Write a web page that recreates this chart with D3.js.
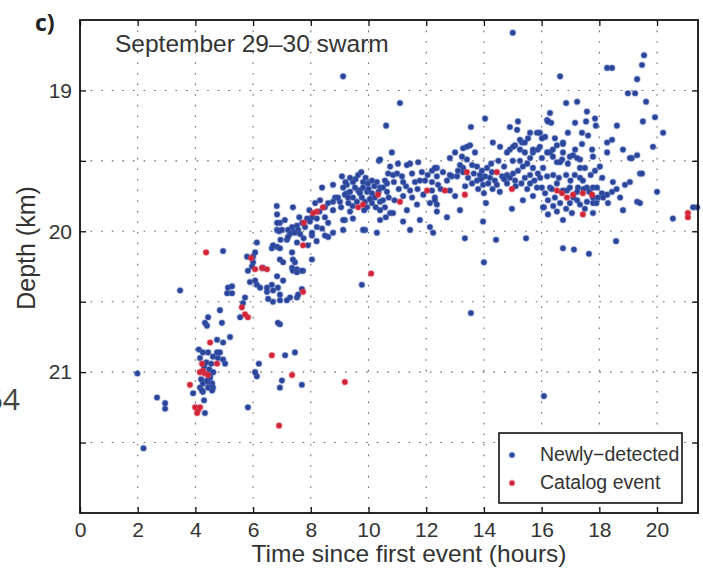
<!DOCTYPE html>
<html>
<head>
<meta charset="utf-8">
<script src="https://cdn.jsdelivr.net/npm/d3@7"></script>
<style>
  body { margin: 0; background: #fff; }
  svg { display: block; }
  .tick text { font-family: "Liberation Sans", Arial, sans-serif; font-size: 21px; fill: #333; }
</style>
</head>
<body>
<svg width="703" height="568"></svg>
<script>
// tick values / labels
const xTicks = [0, 2, 4, 6, 8, 10, 12, 14, 16, 18, 20];
const yTicks = [19, 19.5, 20, 20.5, 21, 21.5];
const yTickLabels = [19, 20, 21];
const seriesNames = ['Newly\u2212detected', 'Catalog event'];

// [hours since first event, depth km]
const newlyDetected = [
  [1.99,21.01],[2.2,21.54],[2.67,21.18],[2.95,21.22],[2.95,21.26],[3.47,20.42],[3.92,21.15],[4.16,21.11],
  [4.26,21.14],[4.23,21.13],[4.3,21.2],[4.33,21.29],[4.26,21.08],[4.44,21.07],[4.4,21.06],[4.51,21.04],
  [4.51,21.02],[4.58,21.08],[4.61,21.11],[4.44,21.11],[4.58,21.13],[5.82,21.25],[6.13,21.03],[6.07,21.0],
  [7.0,21.06],[6.93,21.11],[7.69,21.09],[4.4,20.67],[4.33,20.65],[4.92,20.65],[4.75,20.77],[4.96,20.79],
  [5.2,20.75],[4.12,20.84],[4.26,20.86],[4.44,20.86],[4.75,20.86],[4.85,20.86],[4.16,20.9],[4.61,20.89],
  [4.78,20.9],[4.96,20.91],[5.03,20.94],[6.2,20.94],[6.93,20.66],[7.11,20.88],[7.45,20.86],
  [4.3,20.96],[4.48,20.98],[4.62,21.0],[4.38,20.93],[4.2,21.05],[4.55,20.94],
  [6.82,19.82],[7.38,19.83],[6.83,19.88],[6.93,19.94],[6.83,19.94],[8.04,19.9],[7.87,19.91],[7.7,19.94],
  [7.52,19.96],[7.35,19.97],[7.21,19.99],[7.38,20.0],[7.56,19.99],[6.83,19.99],[6.9,20.0],[7.0,19.99],
  [7.28,20.02],[7.45,20.01],[7.63,20.02],[7.17,20.06],[7.52,20.08],[8.04,20.03],[6.13,20.08],[4.96,20.14],
  [6.65,20.12],[6.83,20.11],[6.07,20.15],[6.0,20.18],[6.0,20.22],[5.96,20.25],[5.79,20.18],[6.93,20.2],
  [7.04,20.22],[7.45,20.22],[7.35,20.26],[7.52,20.27],[7.73,20.28],[5.89,20.36],[6.13,20.38],[6.24,20.4],
  [5.13,20.4],[5.27,20.39],[5.1,20.44],[5.27,20.44],[6.65,20.38],[6.86,20.4],[7.04,20.35],[6.48,20.43],
  [7.52,20.47],[7.28,20.47],[7.17,20.49],[6.93,20.49],[6.69,20.5],[6.52,20.48],[5.72,20.47],[5.65,20.51],
  [4.85,20.56],[4.44,20.61],[5.55,20.61],[6.86,20.65],
  [7.95,19.85],[8.15,19.8],[8.3,19.86],[7.6,19.9],[7.75,20.05],[7.9,20.1],[8.2,20.07],[7.1,19.92],[6.95,20.06],
  [8.39,19.69],[8.77,19.67],[9.25,19.67],[9.64,19.71],[8.84,19.76],[9.01,19.79],[9.25,19.73],[8.49,19.83],
  [8.32,19.78],[9.36,19.86],[8.6,19.94],[9.18,19.92],[7.97,19.93],[8.21,19.97],[8.39,19.98],[8.6,20.04],
  [8.77,20.01],[8.04,20.2],[7.21,20.04],[6.69,20.1],[6.93,20.12],[7.35,20.15],[7.38,20.2],[6.48,20.4],
  [6.69,20.42],[6.93,20.45],[7.56,20.45],[7.69,20.41],[6.83,20.32],[7.38,20.28],[7.52,20.29],[7.69,20.28],
  [5.82,20.28],[6.07,20.35],[6.34,20.26],
  [10.61,19.25],[10.81,19.44],[10.36,19.5],[10.75,19.54],[11.02,19.52],[11.44,19.52],[11.72,19.51],[10.68,19.59],
  [10.99,19.59],[11.16,19.61],[10.88,19.65],[10.64,19.66],[10.4,19.69],[11.85,19.58],[12.2,19.57],[12.37,19.55],
  [11.96,19.64],[12.2,19.65],[11.44,19.71],[11.61,19.65],[11.51,19.76],[12.3,19.76],[12.37,19.81],[12.13,19.8],
  [12.41,19.67],[9.08,19.61],[9.36,19.62],[9.64,19.6],[9.81,19.65],[9.98,19.66],[10.12,19.64],[10.29,19.65],
  [9.53,19.69],[9.7,19.71],[9.95,19.72],[10.12,19.73],[9.36,19.72],[9.18,19.74],[8.94,19.76],[8.77,19.79],
  [8.6,19.8],[9.46,19.76],[9.77,19.76],[9.88,19.79],[10.22,19.76],[10.5,19.69],[10.57,19.64],[10.64,19.72],
  [10.4,19.79],[10.12,19.8],[9.95,19.83],[10.4,19.85],[10.57,19.83],[10.75,19.87],[8.77,19.85],
  [9.2,19.65],[9.55,19.63],[9.9,19.62],[10.2,19.68],[10.35,19.72],[9.6,19.79],[9.85,19.85],[10.05,19.77],
  [10.25,19.83],[9.3,19.8],[9.05,19.83],[10.5,19.78],[10.7,19.76],[10.9,19.78],[11.05,19.7],[10.85,19.6],
  [9.75,19.58],[10.0,19.7],[9.45,19.82],[10.6,19.9],
  [11.3,19.68],[11.7,19.7],[11.9,19.74],[12.05,19.6],[12.5,19.7],[11.2,19.75],
  [7.8,19.97],[8.21,19.91],[8.49,19.9],[8.04,20.01],[9.12,19.92],[9.46,19.91],[9.88,19.99],[9.12,19.99],
  [8.49,20.03],[10.4,19.92],[11.33,19.85],[11.68,19.81],[11.78,19.92],[12.13,19.97],[12.37,19.86],[11.44,19.99],
  [12.24,20.01],[9.12,18.9],[11.09,19.09],[10.4,19.49],[11.33,19.53],[11.51,19.59],[11.2,19.65],[11.78,19.64],
  [12.58,19.58],[12.89,19.61],[13.28,19.55],[9.12,19.69],[9.46,19.65],[9.81,19.69],[9.29,19.76],[9.7,19.73],
  [9.81,19.99],[10.29,20.01],[9.77,20.38],[13.34,20.05],[14.42,20.06],[15.46,20.05],[14.0,20.22],[13.55,20.58],
  [16.08,19.83],[16.74,20.12],[17.12,20.13],[17.64,20.16],[18.58,20.07],[20.55,19.91],[21.39,19.83],[12.72,19.9],
  [13.17,19.85],[14.07,19.8],[14.97,19.84],[11.2,19.93],[10.85,19.87],[16.08,21.17],[15.0,18.59],
  [14.04,19.2],[13.55,19.26],[15.18,19.22],[14.9,19.26],[15.15,19.28],[16.29,19.16],[16.19,19.21],[16.33,19.23],
  [15.6,19.3],[15.84,19.3],[15.94,19.3],[15.53,19.34],[15.32,19.37],[16.12,19.33],[16.46,19.34],[16.74,19.37],
  [16.53,19.39],[14.31,19.37],[14.56,19.4],[15.08,19.39],[14.9,19.42],[15.25,19.42],[15.42,19.44],[15.7,19.44],
  [15.87,19.42],[16.29,19.44],[16.74,19.44],[16.71,19.49],[16.39,19.47],[16.01,19.48],[15.6,19.48],
  [13.52,19.39],[13.28,19.41],[13.0,19.44],[12.82,19.48],[13.69,19.44],[13.41,19.49],[13.17,19.53],[13.28,19.58],
  [12.3,19.55],[12.37,19.61],[12.72,19.64],[12.82,19.6],[13.07,19.61],[13.1,19.57],
  [13.59,19.53],[13.76,19.54],[13.93,19.57],[14.11,19.55],[14.28,19.58],[13.86,19.6],[14.04,19.61],[14.21,19.62],
  [14.38,19.64],[14.63,19.61],[14.8,19.6],[13.76,19.64],[13.59,19.66],[13.97,19.67],[14.45,19.67],[14.8,19.66],
  [15.01,19.59],[15.18,19.57],[15.35,19.54],[15.08,19.64],[15.42,19.62],[15.6,19.6],[15.7,19.55],[15.87,19.59],
  [16.05,19.55],[15.6,19.66],[15.84,19.69],[12.2,19.71],[12.3,19.78],[12.82,19.71],[13.0,19.75],
  [13.65,19.59],[13.9,19.63],[14.15,19.66],[14.3,19.7],[14.55,19.72],[14.7,19.63],[14.9,19.62],[15.1,19.68],
  [15.3,19.66],[15.5,19.7],[15.75,19.64],[15.95,19.62],[14.25,19.52],[14.5,19.5],[14.7,19.54],[15.0,19.5],
  [15.25,19.5],[15.5,19.52],[13.8,19.7],[14.0,19.73],[15.35,19.78],[15.7,19.75],[13.45,19.62],[13.35,19.68],
  [16.19,19.61],[16.29,19.69],[16.53,19.66],[16.01,19.69],[16.12,19.73],[16.22,19.78],[16.05,19.83],[16.46,19.76],
  [16.71,19.72],[16.88,19.71],[16.64,19.8],[16.53,19.86],[16.22,19.88],[13.97,19.93],
  [13.41,19.4],[13.24,19.47],[14.8,19.44],[15.01,19.4],[15.25,19.35],[15.42,19.37],[15.7,19.42],[15.94,19.4],
  [16.19,19.44],[16.39,19.42],[16.53,19.51],[16.98,19.47],[17.33,19.49],[17.78,19.47],[18.02,19.54],[18.27,19.44],
  [16.22,19.22],[16.01,19.34],
  [19.55,18.75],[19.48,18.82],[18.27,18.84],[18.44,18.84],[19.31,18.92],[18.99,19.02],[19.24,19.02],[19.62,19.08],
  [16.64,18.9],[16.85,19.09],[17.57,19.15],[17.85,19.2],[17.54,19.22],[17.16,19.23],[18.61,19.25],[19.51,19.22],
  [19.93,19.19],[20.21,19.3],[16.91,19.3],[17.4,19.3],[17.61,19.32],[17.88,19.25],[16.74,19.38],[17.4,19.38],
  [17.16,19.42],[17.09,19.46],[17.23,19.48],[17.75,19.42],[18.27,19.37],[18.44,19.35],[18.82,19.42],[19.13,19.48],
  [16.64,19.51],[16.91,19.52],[17.33,19.55],[17.5,19.55],[17.85,19.57],[17.33,19.62],[17.43,19.64],[17.26,19.69],
  [17.78,19.69],[18.47,19.65],[18.89,19.67],[19.06,19.65],[19.41,19.59],[20.0,19.72],
  [16.74,19.71],[16.98,19.69],[17.23,19.72],[17.57,19.69],[17.92,19.69],[18.09,19.73],[18.27,19.74],[18.44,19.72],
  [17.23,19.78],[17.57,19.79],[17.78,19.76],[17.95,19.76],[16.98,19.8],[17.33,19.81],[17.78,19.8],[18.13,19.76],
  [18.72,19.76],[19.31,19.79],[19.41,19.8],[18.82,19.85],[17.78,19.87],[17.05,19.87],[16.74,19.92],[21.25,19.83],
  [16.4,19.6],[16.6,19.62],[16.85,19.6],[17.0,19.64],[17.15,19.6],[17.45,19.7],[17.65,19.72],[17.9,19.8],
  [17.5,19.84],[17.1,19.76],[16.85,19.84],[16.4,19.82],[16.35,19.7],[18.3,19.8],[18.6,19.7],[18.1,19.62],[17.7,19.6],
  [17.23,19.08],[19.86,19.4],[19.48,19.59],[19.06,19.48],[19.31,19.46]
];

const catalogEvents = [
  [3.81,21.09],[3.99,21.25],[4.09,21.27],[4.06,21.29],[4.16,21.25],[4.16,21.0],[4.33,21.01],[4.44,21.02],
  [4.23,20.94],[4.26,20.99],[4.75,20.94],[4.51,20.79],[4.37,20.15],[5.61,20.54],[5.82,20.61],[5.72,20.59],
  [5.93,20.19],[6.07,20.27],[6.31,20.26],[6.48,20.27],[6.65,20.88],[7.35,21.02],[6.9,21.38],[9.18,21.07],
  [7.73,20.43],[7.73,20.1],[7.76,19.94],[8.21,19.86],[10.09,20.3],[8.08,19.87],[8.42,19.83],[9.64,19.83],
  [9.81,19.81],[10.33,19.74],[11.09,19.79],[12.03,19.71],[12.65,19.71],[13.34,19.74],[13.41,19.58],[14.45,19.58],
  [14.97,19.7],[16.53,19.71],[16.71,19.73],[16.88,19.76],[17.09,19.74],[17.43,19.73],[17.75,19.74],[17.43,19.88],
  [21.07,19.87],[21.07,19.9]
];

const colors = ['#2b4497', '#d0243a'];
const halos = ['rgba(70,100,190,0.35)', 'rgba(225,70,80,0.35)'];

const svg = d3.select('svg');
const plot = { left: 80, top: 20, right: 698, bottom: 513 };

const x = d3.scaleLinear().domain([0, 21.42]).range([plot.left, plot.right]);
const y = d3.scaleLinear().domain([18.5, 22]).range([plot.top, plot.bottom]);

// dotted grid
const grid = svg.append('g')
  .attr('stroke', '#6a6a6a')
  .attr('stroke-width', 1.1)
  .attr('stroke-dasharray', '1.6,9');
grid.selectAll('.gx')
  .data(xTicks.filter(d => d > 0))
  .enter().append('line')
  .attr('x1', d => x(d)).attr('x2', d => x(d))
  .attr('y1', plot.top).attr('y2', plot.bottom);
grid.selectAll('.gy')
  .data(yTicks)
  .enter().append('line')
  .attr('x1', plot.left).attr('x2', plot.right)
  .attr('y1', d => y(d)).attr('y2', d => y(d));

// points
const series = [newlyDetected, catalogEvents];
series.forEach((pts, i) => {
  svg.append('g')
    .selectAll('circle')
    .data(pts)
    .enter()
    .append('circle')
    .attr('cx', d => x(d[0]))
    .attr('cy', d => y(d[1]))
    .attr('r', 2.8)
    .attr('fill', colors[i])
    .attr('stroke', halos[i])
    .attr('stroke-width', 1.6);
});

// axes, ticks pointing inward
svg.append('g')
  .attr('transform', `translate(0,${plot.bottom})`)
  .call(d3.axisBottom(x).tickValues(xTicks).tickSize(-6).tickPadding(9))
  .call(g => g.select('.domain').remove());
svg.append('g')
  .attr('transform', `translate(0,${plot.top})`)
  .call(d3.axisTop(x).tickValues(xTicks).tickSize(-6).tickFormat(''))
  .call(g => g.select('.domain').remove());
svg.append('g')
  .attr('transform', `translate(${plot.left},0)`)
  .call(d3.axisLeft(y).tickValues(yTicks).tickSize(-6).tickPadding(8)
    .tickFormat(d => (yTickLabels.includes(d) ? d : '')))
  .call(g => g.select('.domain').remove());
svg.append('g')
  .attr('transform', `translate(${plot.right},0)`)
  .call(d3.axisRight(y).tickValues(yTicks).tickSize(-6).tickFormat(''))
  .call(g => g.select('.domain').remove());
svg.selectAll('.tick line').attr('stroke', '#111').attr('stroke-width', 1.3);

svg.append('rect')
  .attr('x', plot.left).attr('y', plot.top)
  .attr('width', plot.right - plot.left).attr('height', plot.bottom - plot.top)
  .attr('fill', 'none').attr('stroke', '#111').attr('stroke-width', 1.8);

// labels
const font = '"Liberation Sans", Arial, sans-serif';
svg.append('text')
  .attr('x', 115).attr('y', 52)
  .attr('font-family', font).attr('font-size', 24.5).attr('fill', '#333')
  .text('September 29\u201330 swarm');
svg.append('text')
  .attr('x', 409).attr('y', 562).attr('text-anchor', 'middle')
  .attr('font-family', font).attr('font-size', 24.5).attr('fill', '#333')
  .text('Time since first event (hours)');
svg.append('text')
  .attr('transform', 'translate(35,248) rotate(-90)')
  .attr('text-anchor', 'middle')
  .attr('font-family', font).attr('font-size', 25).attr('fill', '#333')
  .text('Depth (km)');
svg.append('text')
  .attr('x', 35).attr('y', 31)
  .attr('font-family', '"Open Sans", sans-serif').attr('font-weight', 'bold')
  .attr('font-size', 23).attr('fill', '#222')
  .text('c)');
svg.append('text')
  .attr('x', 20).attr('y', 410).attr('text-anchor', 'end')
  .attr('font-family', '"Open Sans", sans-serif')
  .attr('font-size', 30).attr('fill', '#444')
  .text('64');

// legend
const legend = svg.append('g').attr('transform', 'translate(499,433)');
legend.append('rect')
  .attr('width', 183).attr('height', 70)
  .attr('fill', '#fff').attr('stroke', '#111').attr('stroke-width', 1.6);
const items = legend.selectAll('.item')
  .data(seriesNames)
  .enter().append('g')
  .attr('transform', (d, i) => `translate(0,${22 + i * 28})`);
items.append('circle')
  .attr('cx', 13).attr('cy', 0).attr('r', 2.6)
  .attr('fill', (d, i) => colors[i])
  .attr('stroke', (d, i) => halos[i]).attr('stroke-width', 1.6);
items.append('text')
  .attr('x', 41).attr('y', 6)
  .attr('font-family', font).attr('font-size', 19.5).attr('fill', '#333')
  .text(d => d);
</script>
</body>
</html>
